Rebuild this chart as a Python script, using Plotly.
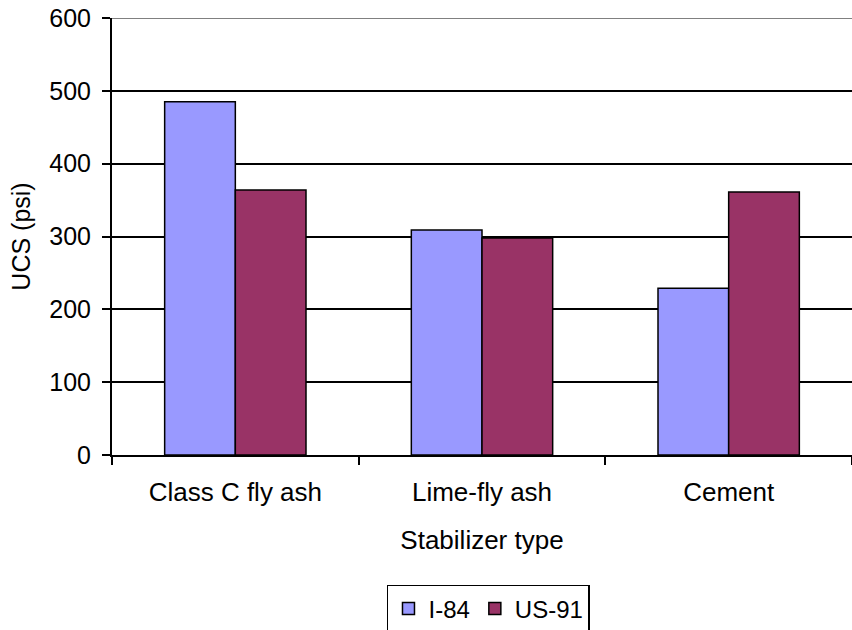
import plotly.graph_objects as go

categories = ["Class C fly ash", "Lime-fly ash", "Cement"]
i84 = [485, 309, 229]
us91 = [364, 298, 361]
y_ticks = [0, 100, 200, 300, 400, 500, 600]

FONT = "Liberation Sans, Arial, sans-serif"

fig = go.Figure()
fig.add_trace(go.Bar(name="I-84", x=categories, y=i84,
                     marker=dict(color="#9999FF", line=dict(color="black", width=1.5))))
fig.add_trace(go.Bar(name="US-91", x=categories, y=us91,
                     marker=dict(color="#993366", line=dict(color="black", width=1.5))))

fig.update_layout(
    width=852, height=630,
    margin=dict(l=112, r=0, t=18, b=175, autoexpand=False),
    paper_bgcolor="white", plot_bgcolor="white",
    barmode="group", bargap=0.427, bargroupgap=0,
    font=dict(family=FONT, size=24, color="black"),
    showlegend=True,
    legend=dict(orientation="h", x=0.3716, y=-0.297, xanchor="left", yanchor="top",
                bordercolor="black", borderwidth=1.5, font=dict(size=24),
                tracegroupgap=0),
    xaxis=dict(
        title=dict(text="Stabilizer type", font=dict(size=26), standoff=25),
        tickfont=dict(size=26), automargin=False,
        showline=True, linecolor="black", linewidth=2,
        ticks="outside", tickson="boundaries", ticklen=8, tickwidth=2, tickcolor="black",
        showgrid=False, ticklabelstandoff=13,
    ),
    yaxis=dict(
        title=dict(text="UCS (psi)", font=dict(size=25), standoff=12),
        range=[0, 600], tickvals=y_ticks, tickfont=dict(size=25), automargin=False,
        ticklabeloverflow="allow",
        showline=True, linecolor="black", linewidth=2,
        ticks="outside", ticklen=8, tickwidth=2, tickcolor="black",
        showgrid=True, gridcolor="black", gridwidth=1.5,
        zeroline=False, ticklabelstandoff=6,
    ),
)

fig.add_shape(type="line", xref="paper", yref="y", x0=0, x1=1, y0=600, y1=600,
              line=dict(color="#808080", width=2), layer="above")

fig.write_html("out.html", config={"displayModeBar": False},
               post_script="document.body.style.margin='0';")
